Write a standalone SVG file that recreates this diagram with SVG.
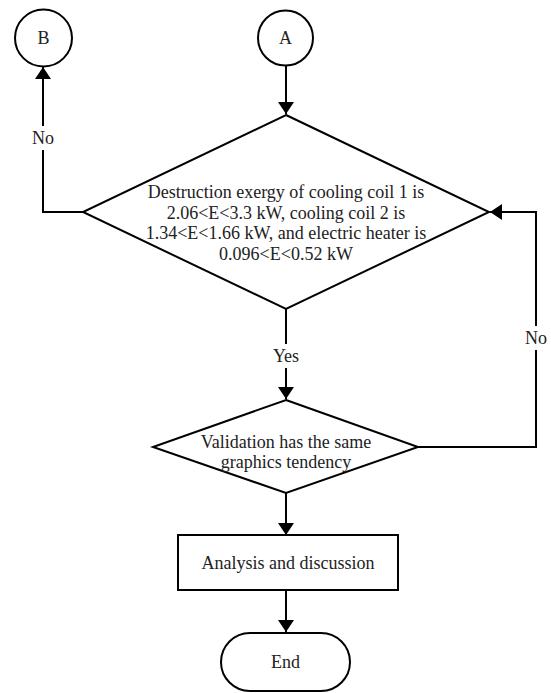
<svg xmlns="http://www.w3.org/2000/svg" width="551" height="693" viewBox="0 0 551 693">
<style>
.s{fill:#fff;stroke:#000;stroke-width:2}
.c{fill:none;stroke:#000;stroke-width:2}
text{font-family:"Liberation Serif","Times New Roman",serif;font-size:18px;fill:#222;text-anchor:middle;dominant-baseline:central}
</style>
<defs>
<marker id="ar" viewBox="0 0 12 16" refX="12" refY="8" markerWidth="12" markerHeight="16" markerUnits="userSpaceOnUse" orient="auto">
<path d="M0,0 L12,8 L0,16 Z" fill="#000"/>
</marker>
</defs>
<rect width="551" height="693" fill="#fff"/>
<g id="connectors">
<line class="c" x1="286" y1="66" x2="286" y2="114" marker-end="url(#ar)"/>
<polyline class="c" points="83,212 43,212 43,67" marker-end="url(#ar)"/>
<line class="c" x1="286" y1="309" x2="286" y2="399" marker-end="url(#ar)"/>
<polyline class="c" points="418,447 536,447 536,212 490,212" marker-end="url(#ar)"/>
<line class="c" x1="286" y1="493" x2="286" y2="535" marker-end="url(#ar)"/>
<line class="c" x1="286" y1="590" x2="286" y2="632" marker-end="url(#ar)"/>
<rect x="28" y="126" width="30" height="24" fill="#fff"/>
<text x="43" y="138">No</text>
<rect x="268" y="344" width="36" height="24" fill="#fff"/>
<text x="286" y="356">Yes</text>
<rect x="521" y="326" width="30" height="24" fill="#fff"/>
<text x="536" y="338">No</text>
</g>
<g id="nodeB">
<circle class="s" cx="43.5" cy="38" r="28.5"/>
<text x="43.5" y="38">B</text>
</g>
<g id="nodeA">
<circle class="s" cx="285.5" cy="38" r="27.5"/>
<text x="285.5" y="38">A</text>
</g>
<g id="decision1">
<polygon class="s" points="286,115 489,212 286,309 83,212"/>
<text x="286" y="192">Destruction exergy of cooling coil 1 is</text>
<text x="286" y="213">2.06&lt;E&lt;3.3 kW, cooling coil 2 is</text>
<text x="286" y="233">1.34&lt;E&lt;1.66 kW, and electric heater is</text>
<text x="286" y="254">0.096&lt;E&lt;0.52 kW</text>
</g>
<g id="decision2">
<polygon class="s" points="286,400 418,447 286,493 153,447"/>
<text x="286" y="442">Validation has the same</text>
<text x="286" y="462">graphics tendency</text>
</g>
<g id="process">
<rect class="s" x="178" y="535" width="220" height="55"/>
<text x="288" y="563">Analysis and discussion</text>
</g>
<g id="end">
<rect class="s" x="221" y="633" width="129" height="58" rx="29" ry="29"/>
<text x="285.5" y="662">End</text>
</g>
</svg>
